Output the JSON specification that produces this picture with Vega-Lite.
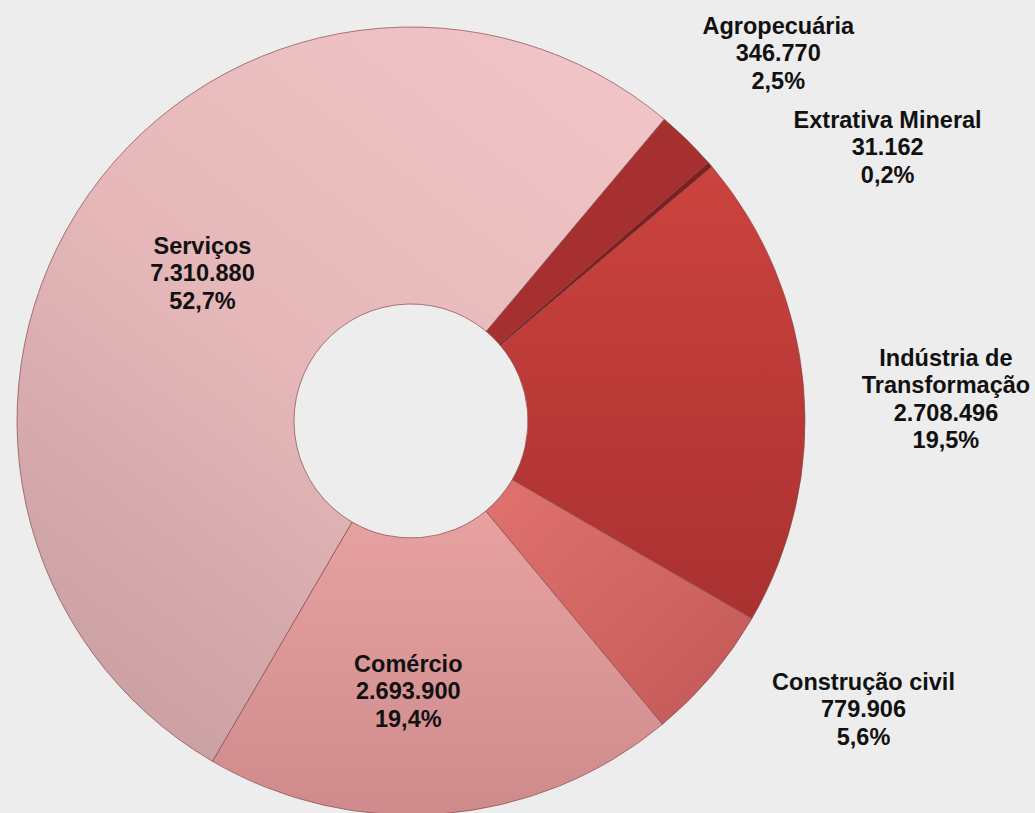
{
  "$schema": "https://vega.github.io/schema/vega-lite/v6.json",
  "width": 822,
  "height": 784,
  "autosize": {"type": "none"},
  "padding": {"left": 0, "top": 29, "right": 213, "bottom": 0},
  "background": "#ededed",
  "config": {"view": {"stroke": null}},
  "data": {
    "values": [
      {"name": "Agropecuária", "value": 346770, "ord": 1, "label": "Agropecuária\n346.770\n2,5%"},
      {"name": "Extrativa Mineral", "value": 31162, "ord": 2, "label": "Extrativa Mineral\n31.162\n0,2%"},
      {"name": "Indústria de Transformação", "value": 2708496, "ord": 3, "label": "Indústria de\nTransformação\n2.708.496\n19,5%"},
      {"name": "Construção civil", "value": 779906, "ord": 4, "label": "Construção civil\n779.906\n5,6%"},
      {"name": "Comércio", "value": 2693900, "ord": 5, "label": "Comércio\n2.693.900\n19,4%"},
      {"name": "Serviços", "value": 7310880, "ord": 6, "label": "Serviços\n7.310.880\n52,7%"}
    ]
  },
  "encoding": {
    "theta": {"field": "value", "type": "quantitative", "stack": true, "scale": {"range": [0.6981, 6.9813]}},
    "order": {"field": "ord", "type": "quantitative"}
  },
  "layer": [
    {
      "mark": {"type": "arc", "outerRadius": 394, "innerRadius": 117, "stroke": "#8a4848", "strokeWidth": 1, "strokeOpacity": 0.7},
      "encoding": {
        "color": {
          "condition": [
            {"test": "datum.name === 'Serviços'", "value": {"gradient": "linear", "x1": 0.85, "y1": 0.05, "x2": 0.2, "y2": 1, "stops": [{"offset": 0, "color": "#f0c4c6"}, {"offset": 0.5, "color": "#e5b7b9"}, {"offset": 1, "color": "#c99fa2"}]}},
            {"test": "datum.name === 'Comércio'", "value": {"gradient": "linear", "x1": 0, "y1": 0, "x2": 0, "y2": 1, "stops": [{"offset": 0, "color": "#e7a1a1"}, {"offset": 1, "color": "#cf8b8c"}]}},
            {"test": "datum.name === 'Construção civil'", "value": {"gradient": "linear", "x1": 0, "y1": 0, "x2": 1, "y2": 1, "stops": [{"offset": 0, "color": "#e0726f"}, {"offset": 1, "color": "#c25956"}]}},
            {"test": "datum.name === 'Indústria de Transformação'", "value": {"gradient": "linear", "x1": 0, "y1": 0, "x2": 0, "y2": 1, "stops": [{"offset": 0, "color": "#cc433f"}, {"offset": 1, "color": "#a93130"}]}},
            {"test": "datum.name === 'Extrativa Mineral'", "value": "#7d1f1f"}
          ],
          "value": "#a5302f"
        }
      }
    },
    {
      "mark": {"type": "text", "radius": 524, "dy": -20.5, "font": "Liberation Sans", "fontWeight": "bold", "fontSize": 23.5, "lineHeight": 27.5, "lineBreak": "\n", "align": "center", "baseline": "middle", "color": "#111111"},
      "encoding": {"text": {"condition": {"test": "datum.name === 'Agropecuária'", "field": "label"}, "value": ""}}
    },
    {
      "mark": {"type": "text", "radius": 550, "dx": 59, "dy": 57.5, "font": "Liberation Sans", "fontWeight": "bold", "fontSize": 23.5, "lineHeight": 27.5, "lineBreak": "\n", "align": "center", "baseline": "middle", "color": "#111111"},
      "encoding": {"text": {"condition": {"test": "datum.name === 'Extrativa Mineral'", "field": "label"}, "value": ""}}
    },
    {
      "mark": {"type": "text", "radius": 537, "dy": -15, "font": "Liberation Sans", "fontWeight": "bold", "fontSize": 23.5, "lineHeight": 27.5, "lineBreak": "\n", "align": "center", "baseline": "middle", "color": "#111111"},
      "encoding": {"text": {"condition": {"test": "datum.name === 'Indústria de Transformação'", "field": "label"}, "value": ""}}
    },
    {
      "mark": {"type": "text", "radius": 535, "dx": 44, "dy": -83.5, "font": "Liberation Sans", "fontWeight": "bold", "fontSize": 23.5, "lineHeight": 27.5, "lineBreak": "\n", "align": "center", "baseline": "middle", "color": "#111111"},
      "encoding": {"text": {"condition": {"test": "datum.name === 'Construção civil'", "field": "label"}, "value": ""}}
    },
    {
      "mark": {"type": "text", "radius": 272, "dx": -25, "dy": -27.5, "font": "Liberation Sans", "fontWeight": "bold", "fontSize": 23.5, "lineHeight": 27.5, "lineBreak": "\n", "align": "center", "baseline": "middle", "color": "#111111"},
      "encoding": {"text": {"condition": {"test": "datum.name === 'Comércio'", "field": "label"}, "value": ""}}
    },
    {
      "mark": {"type": "text", "radius": 255, "dy": -27.5, "font": "Liberation Sans", "fontWeight": "bold", "fontSize": 23.5, "lineHeight": 27.5, "lineBreak": "\n", "align": "center", "baseline": "middle", "color": "#111111"},
      "encoding": {"text": {"condition": {"test": "datum.name === 'Serviços'", "field": "label"}, "value": ""}}
    }
  ]
}
